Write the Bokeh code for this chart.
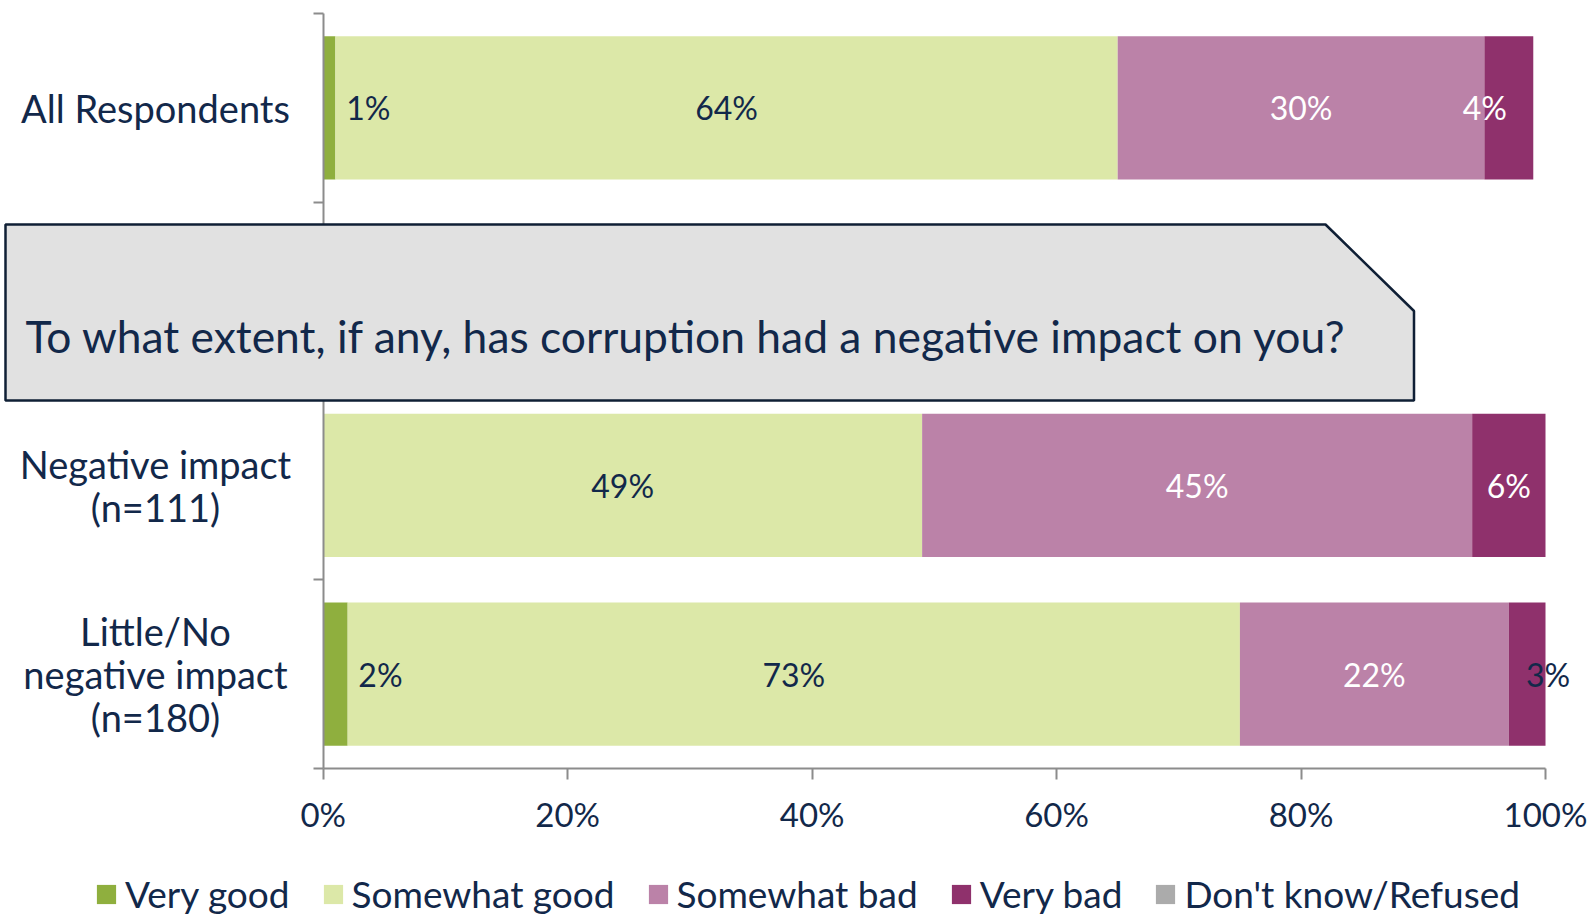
from bokeh.plotting import figure
from bokeh.models import ColumnDataSource, Range1d, FixedTicker, PolyAnnotation, Label, PrintfTickFormatter
from bokeh.core.properties import value
from bokeh.embed import file_html
from bokeh.resources import INLINE

# ---------------- data ----------------
categories = ["All Respondents", "", "Negative impact\n(n=111)", "Little/No\nnegative impact\n(n=180)"]
series = ["Very good", "Somewhat good", "Somewhat bad", "Very bad", "Don't know/Refused"]
very_good = [1, 0, 0, 2]
somewhat_good = [64, 0, 49, 73]
somewhat_bad = [30, 0, 45, 22]
very_bad = [4, 0, 6, 3]
dont_know = [0, 0, 0, 0]
x_ticks = [0, 20, 40, 60, 80, 100]
question = "To what extent, if any, has corruption had a negative impact on you?"

# ---------------- style / layout ----------------
FONT = "Lato"
NAVY = "#12284A"
GRAY = "#8C8C8C"
colors = ["#8FAF3E", "#DCE8A8", "#BB82A8", "#8F316C", "#ABABAB"]
label_colors = [NAVY, NAVY, "white", "white", NAVY]
label_dx = {(0, 0): 39, (3, 0): 45, (0, 3): -24, (3, 3): 21}
label_color_override = {(3, 3): NAVY}

W, H = 1591, 916
AX_L, AX_R, AX_T, AX_B = 322.7, 1545.0, 13.0, 768.0   # pixel box of the 0..100 x 0..n data area
CAT_LABEL_CENTER_PX = 155

n = len(categories)
sx = (AX_R - AX_L) / 100.0
sy = (AX_B - AX_T) / n
x_range = Range1d(-AX_L / sx, 100 + (W - AX_R) / sx)
y_range = Range1d(-(H - AX_B) / sy, n + AX_T / sy)

def px_to_x(px):
    return (px - AX_L) / sx

def px_to_y(py):
    return (AX_B - py) / sy

ycent = [n - 0.5 - i for i in range(n)]
keys = ["vg", "sg", "sb", "vb", "dk"]
vals = [very_good, somewhat_good, somewhat_bad, very_bad, dont_know]
src = ColumnDataSource(dict(y=ycent, **{k: v for k, v in zip(keys, vals)}))

p = figure(width=W, height=H, x_range=x_range, y_range=y_range,
           output_backend="svg", toolbar_location=None,
           min_border_left=0, min_border_right=0, min_border_top=0, min_border_bottom=0)
p.outline_line_color = None
p.xgrid.visible = False
p.ygrid.visible = False
p.background_fill_color = "white"

p.hbar_stack(keys, y="y", height=0.76, color=colors, source=src, line_color=None,
             legend_label=series)

# data labels
lx, ly, lt, lc, ld = [], [], [], [], []
for i in range(n):
    cum = 0
    for j, v in enumerate(vals):
        val = v[i]
        if val > 0:
            lx.append(cum + val / 2)
            ly.append(ycent[i])
            lt.append(f"{val}%")
            lc.append(label_color_override.get((i, j), label_colors[j]))
            ld.append(label_dx.get((i, j), 0))
        cum += val
lsrc = ColumnDataSource(dict(x=lx, y=ly, text=lt, color=lc, dx=ld))
p.text(x="x", y="y", text="text", source=lsrc, text_color="color", x_offset="dx",
       text_align="center", text_baseline="middle", text_font=value(FONT), text_font_size="32px")

# category labels (centred multi-line, left of the y axis)
csrc = ColumnDataSource(dict(y=ycent, text=categories))
p.text(x=px_to_x(CAT_LABEL_CENTER_PX), y="y", text="text", source=csrc, text_color=NAVY,
       text_align="center", text_baseline="middle", text_font=value(FONT),
       text_font_size="38px", text_line_height=0.94)

# x axis
xa = p.xaxis[0]
xa.fixed_location = 0
xa.bounds = (0, 100)
xa.ticker = FixedTicker(ticks=x_ticks, minor_ticks=[])
xa.formatter = PrintfTickFormatter(format="%d%%")
xa.axis_line_color = GRAY
xa.axis_line_width = 2
xa.major_tick_line_color = GRAY
xa.major_tick_line_width = 2
xa.major_tick_out = 11
xa.major_tick_in = 0
xa.minor_tick_out = 0
xa.major_label_standoff = 14
xa.major_label_text_font = FONT
xa.major_label_text_font_size = "33px"
xa.major_label_text_color = NAVY

# y axis (category boundaries as unlabeled ticks)
ya = p.yaxis[0]
ya.fixed_location = 0
ya.bounds = (0, n)
ya.ticker = FixedTicker(ticks=[], minor_ticks=list(range(n + 1)))
ya.axis_line_color = GRAY
ya.axis_line_width = 2
ya.major_tick_out = 0
ya.major_tick_in = 0
ya.minor_tick_out = 10
ya.minor_tick_in = 0
ya.minor_tick_line_color = GRAY
ya.minor_tick_line_width = 2

# callout box over the second row
callout = PolyAnnotation(
    xs=[px_to_x(5), px_to_x(1325), px_to_x(1413.5), px_to_x(1413.5), px_to_x(5)],
    ys=[px_to_y(224), px_to_y(224), px_to_y(310.5), px_to_y(400), px_to_y(400)],
    fill_color="#E1E1E1", fill_alpha=1, line_color="#0F1F35", line_alpha=1, line_width=2.5)
p.add_layout(callout)
p.add_layout(Label(x=px_to_x(25), y=px_to_y(335), text=question, text_baseline="middle", text_align="left",
                   text_font=FONT, text_font_size="44.4px", text_color=NAVY))

# legend
lg = p.legend[0]
lg.orientation = "horizontal"
lg.location = (94, 0)
lg.background_fill_alpha = 0
lg.border_line_color = None
lg.padding = 0
lg.margin = 0
lg.glyph_width = 24
lg.glyph_height = 24
lg.label_standoff = 7
lg.spacing = 31
lg.label_text_font = FONT
lg.label_text_font_size = "37px"
lg.label_text_color = NAVY

open("out.html", "w").write(file_html(p, INLINE))
